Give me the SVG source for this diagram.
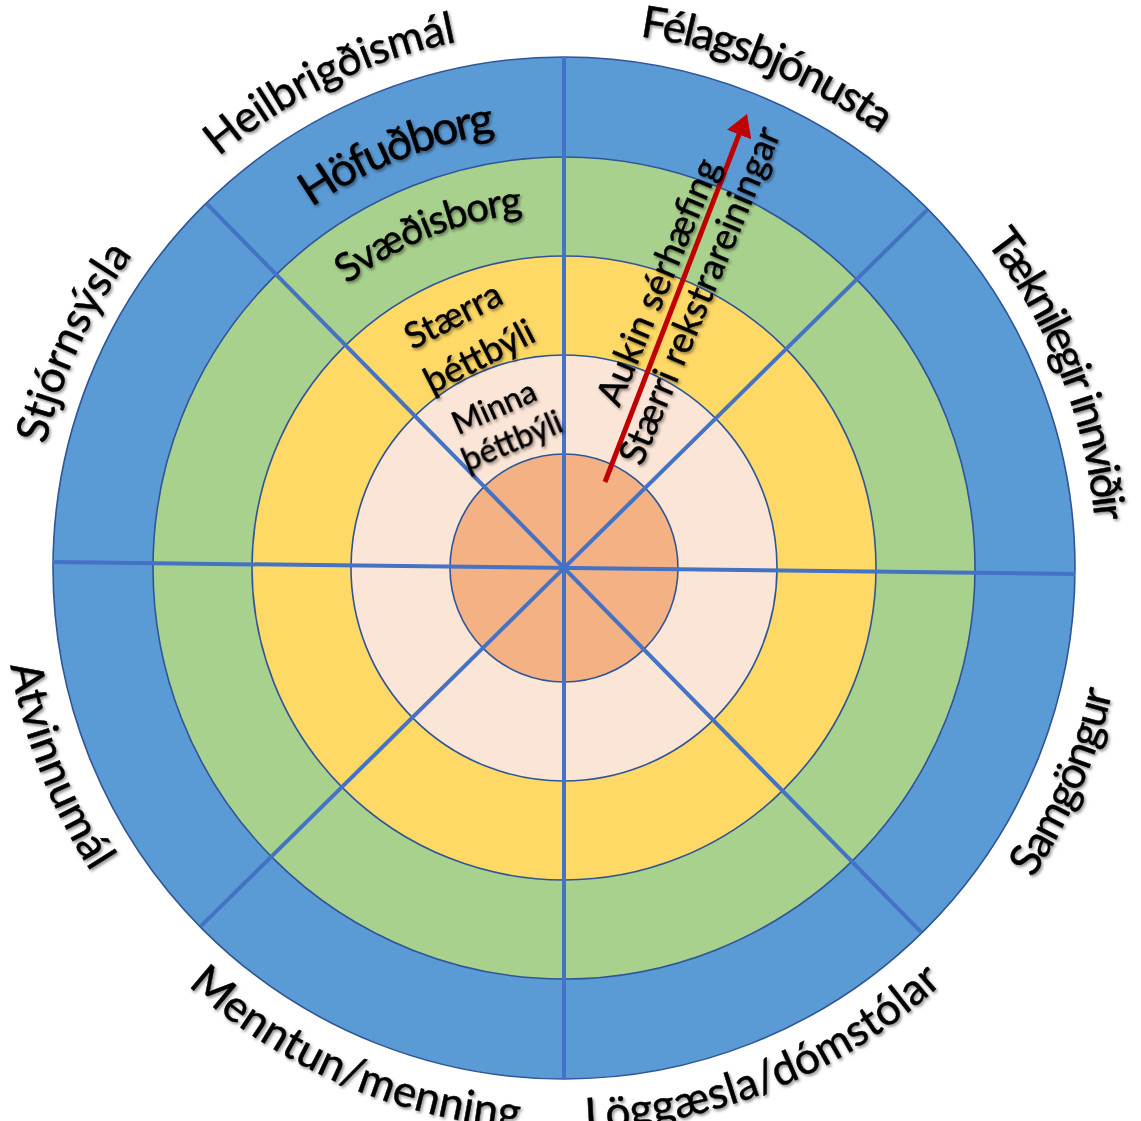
<svg xmlns="http://www.w3.org/2000/svg" width="1141" height="1121" viewBox="0 0 1141 1121">
<style>
.ring{stroke:#2F5597;stroke-width:1.6}
.div{stroke:#4472C4;stroke-width:4;fill:none}
.lbl{font-family:Lato,"Liberation Sans",sans-serif;fill:#000;stroke:#000;stroke-width:0.45}
.sh{filter:url(#sh)}
</style>
<defs>
<filter id="sh" x="-20%" y="-20%" width="140%" height="140%">
<feDropShadow dx="1.5" dy="2" stdDeviation="1.4" flood-color="#000" flood-opacity="0.45"/>
</filter>
<marker id="ah" viewBox="0 0 22 26" markerUnits="userSpaceOnUse" markerWidth="22" markerHeight="26" refX="2" refY="13" orient="auto">
<path d="M0,0 L22,13 L0,26 z" fill="#C00000"/>
</marker>
<path id="p1" d="M218.8,156.7 A537,537 0 0 1 657.2,39.2"/>
<path id="p2" d="M639.7,36.4 A537,537 0 0 1 1009.2,267.7"/>
<path id="p3" d="M985.7,242.1 A533,533 0 0 1 1088.9,660.5"/>
<path id="p4" d="M45.5,444.5 A533,533 0 0 1 297.5,106.4"/>
<path id="p5" d="M1032.6,878.2 A562,562 0 0 0 1117.5,470.4"/>
<path id="p6" d="M585.6,1129.6 A562,562 0 0 0 1050.7,849"/>
<path id="p7" d="M188,985.6 A562,562 0 0 0 709.5,1110.8"/>
<path id="p8" d="M10.5,665.6 A562,562 0 0 0 241.6,1028.4"/>
<path id="p9" d="M311.6,207.6 A440,440 0 0 1 564,128"/>
<path id="p10" d="M347.2,284.4 A357,357 0 0 1 564,211"/>
</defs>
<rect width="1141" height="1121" fill="#fff"/>
<g id="rings">
<circle id="ring-hofudborg" class="ring" cx="564" cy="568" r="511" fill="#5B9BD5"/>
<circle id="ring-svaedisborg" class="ring" cx="564" cy="568" r="411" fill="#A9D18E"/>
<circle id="ring-staerra" class="ring" cx="564" cy="568" r="312" fill="#FFD966"/>
<circle id="ring-minna" class="ring" cx="564" cy="568" r="213" fill="#FBE5D6"/>
<circle id="ring-core" class="ring" cx="564" cy="568" r="114" fill="#F4B183"/>
</g>
<g id="dividers">
<line class="div" x1="564" y1="57" x2="564" y2="1079"/>
<line class="div" x1="53" y1="562" x2="1075" y2="574"/>
<line class="div" x1="206.9" y1="203.9" x2="921.1" y2="932.1"/>
<line class="div" x1="927.1" y1="209.9" x2="200.9" y2="926.1"/>
</g>
<g id="connectors">
<line x1="605" y1="482" x2="739.8" y2="132.7" stroke="#C00000" stroke-width="5" marker-end="url(#ah)"/>
</g>
<g id="outer-labels" class="lbl sh" font-size="44">
<g id="lbl-heilbrigdismal"><text><textPath href="#p1" textLength="267">Heilbrigðismál</textPath></text></g>
<g id="lbl-felagsthjonusta"><text><textPath href="#p2" textLength="262">Félagsbjónusta</textPath></text></g>
<g id="lbl-taeknilegir"><text><textPath href="#p3" textLength="304">Tæknilegir innviðir</textPath></text></g>
<g id="lbl-stjornsysla"><text><textPath href="#p4" textLength="210">Stjórnsýsla</textPath></text></g>
<g id="lbl-samgongur"><text><textPath href="#p5" textLength="204">Samgöngur</textPath></text></g>
<g id="lbl-loggaesla"><text><textPath href="#p6" textLength="394">Löggæsla/dómstólar</textPath></text></g>
<g id="lbl-menntun"><text><textPath href="#p7" textLength="367">Menntun/menning</textPath></text></g>
<g id="lbl-atvinnumal"><text><textPath href="#p8" textLength="223">Atvinnumál</textPath></text></g>
</g>
<g id="ring-labels" class="lbl sh">
<g id="lbl-hofudborg"><text font-size="46"><textPath href="#p9" textLength="200">Höfuðborg</textPath></text></g>
<g id="lbl-svaedisborg"><text font-size="40"><textPath href="#p10" textLength="192">Svæðisborg</textPath></text></g>
<g id="lbl-staerra"><text font-size="36" text-anchor="middle" transform="translate(453,315) rotate(-27)" dy="0.35em">Stærra</text>
<text font-size="36" text-anchor="middle" transform="translate(479,356) rotate(-27)" dy="0.35em">þéttbýli</text></g>
<g id="lbl-minna"><text font-size="32" text-anchor="middle" transform="translate(494,407) rotate(-24)" dy="0.35em">Minna</text>
<text font-size="32" text-anchor="middle" transform="translate(512,441) rotate(-23)" dy="0.35em">þéttbýli</text></g>
</g>
<g id="arrow-labels" class="lbl sh" font-size="37">
<text id="lbl-aukin" text-anchor="middle" transform="translate(679,290.5) rotate(-67.3)" y="-10">Aukin sérhæfing</text>
<text id="lbl-staerri" text-anchor="middle" transform="translate(680,287) rotate(-67.3)" y="34">Stærri rekstrareiningar</text>
</g>
</svg>
